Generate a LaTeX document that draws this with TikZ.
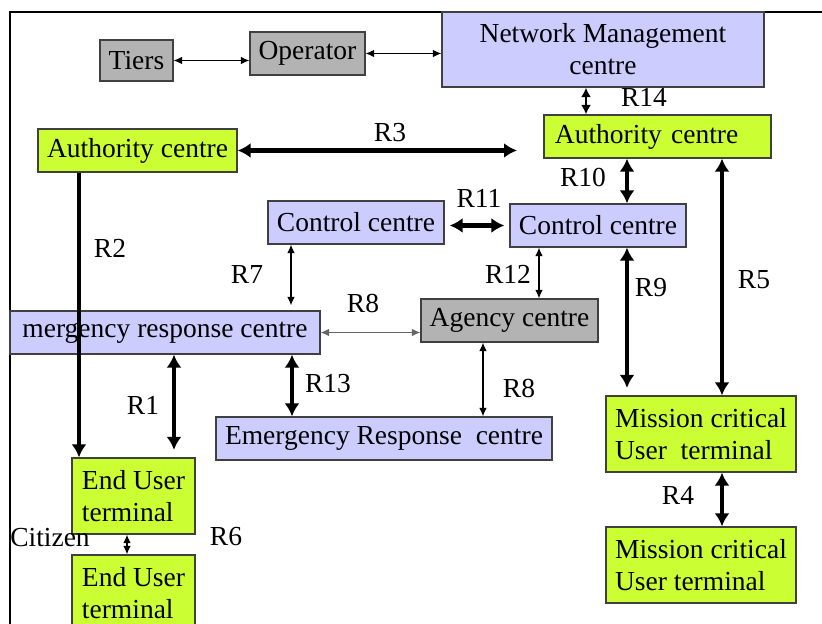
\documentclass[tikz,border=0pt]{standalone}
\usepackage{fontspec}
\setmainfont{Liberation Serif}
\usetikzlibrary{arrows.meta}
\definecolor{lavfill}{HTML}{CCCCFF}
\definecolor{limefill}{HTML}{CCFF33}
\definecolor{greyfill}{HTML}{B3B3B3}

\begin{document}
\begin{tikzpicture}[x=0.4pt,y=-0.4pt,font=\fontsize{11}{12.8}\selectfont,
    box/.style={draw=black!75,line width=0.5pt,inner sep=0pt,minimum height=17.2pt},
    grey box/.style={box,fill=greyfill},
    blue box/.style={box,fill=lavfill},
    green box/.style={box,fill=limefill},
    thinarrow/.style={line width=0.45pt,>={Latex[length=3.4pt,width=3pt]}},
    midarrow/.style={line width=1pt,>={Latex[length=3.8pt,width=4pt]}},
    fatarrow/.style={line width=1.8pt,>={Latex[length=5.2pt,width=6pt]}}]
  \useasboundingbox (0,0) rectangle (822,624);
  \draw [line width=0.6pt] (822,12) -- (10,12) -- (10,624);

  \node [grey box,minimum width=29.2pt,minimum height=16.4pt] (tiers) at (136.5,60.5) {Tiers};
  \node [grey box,minimum width=46pt] (oper) at (307.5,53.5) {Operator};
  \node [blue box,minimum width=128.8pt,minimum height=30pt,align=center] (nmc) at (603,49.5) {Network Management\\centre};
  \node [green box,minimum width=79.6pt] (authL) at (137.5,150.5) {Authority centre};
  \node [green box,text width=82pt,inner xsep=4.4pt,align=left] (authR) at (657.5,136.5) {Authority centre};
  \node [blue box,minimum width=70.4pt] (ctrlL) at (356,222.5) {Control centre};
  \node [blue box,minimum width=70.4pt] (ctrlR) at (598,225.5) {Control centre};
  \node [blue box,minimum width=124pt] (ercA) at (165,332.5) {mergency response centre};
  \node [grey box,minimum width=70.8pt] (agency) at (509.5,320.5) {Agency centre};
  \node [blue box,minimum width=134.4pt] (ercB) at (384,438.5) {Emergency Response\ \ centre};
  \node [green box,minimum width=49.2pt,minimum height=30.4pt,align=left] (eutA) at (133.5,496) {End User\\terminal};
  \node [green box,minimum width=49.2pt,minimum height=30.4pt,align=left] (eutB) at (133.5,593) {End User\\terminal};
  \node [green box,minimum width=76pt,minimum height=30.4pt,align=left] (mcA) at (701,434) {Mission critical\\User\ \ terminal};
  \node [green box,minimum width=76pt,minimum height=30.4pt,align=left] (mcB) at (701,565) {Mission critical\\User terminal};

  \coordinate (r3end) at (517,150.5);
  \draw [thinarrow,<->] (tiers.east) -- (tiers.east -| oper.west);
  \draw [thinarrow,<->] (oper.east) -- (oper.east -| nmc.west);
  \draw [midarrow,<->] (586,0 |- nmc.south) -- (586,0 |- authR.north);
  \draw [fatarrow,<->] (authL.east) -- (r3end);
  \draw [fatarrow,->] (79,0 |- authL.south) -- (79,0 |- eutA.north);
  \draw [fatarrow,<->] (627,0 |- authR.south) -- (627,0 |- ctrlR.north);
  \draw [fatarrow,<->] (722,0 |- authR.south) -- (722,0 |- mcA.north);
  \draw [fatarrow,<->,shorten <=2pt,shorten >=2pt] (ctrlR.west -| ctrlL.east) -- (ctrlR.west);
  \draw [thinarrow,<->,shorten >=2pt] (291,0 |- ctrlL.south) -- (291,0 |- ercA.north);
  \draw [thinarrow,<->] (539,0 |- ctrlR.south) -- (539,0 |- agency.north);
  \draw [fatarrow,<->,shorten >=3pt] (627,0 |- ctrlR.south) -- (627,0 |- mcA.north);
  \draw [thinarrow,<->,draw=black!60] (ercA.east) -- (ercA.east -| agency.west);
  \draw [thinarrow,<->] (483,0 |- agency.south) -- (483,0 |- ercB.north);
  \draw [fatarrow,<->] (292,0 |- ercA.south) -- (292,0 |- ercB.north);
  \draw [fatarrow,<->,shorten >=3pt] (174,0 |- ercA.south) -- (174,0 |- eutA.north);
  \draw [thinarrow,<->] (127,0 |- eutA.south) -- (127,0 |- eutB.north);
  \draw [fatarrow,<->] (722,0 |- mcA.south) -- (722,0 |- mcB.north);

  \node (lR3) at (390,133) {R3};
  \node (lR14) at (644,97) {R14};
  \node (lR10) at (583,178) {R10};
  \node (lR11) at (479,198) {R11};
  \node (lR2) at (110,248) {R2};
  \node (lR7) at (247,275) {R7};
  \node (lR12) at (508,274) {R12};
  \node (lR9) at (651,288) {R9};
  \node (lR5) at (754,280) {R5};
  \node (lR8a) at (363,303) {R8};
  \node (lR13) at (328,384) {R13};
  \node (lR1) at (143,405) {R1};
  \node (lR8b) at (519,388) {R8};
  \node (lR4) at (678,495) {R4};
  \node (lR6) at (226,537) {R6};
  \node (lcit) at (50,538) {Citizen};
\end{tikzpicture}
\end{document}
